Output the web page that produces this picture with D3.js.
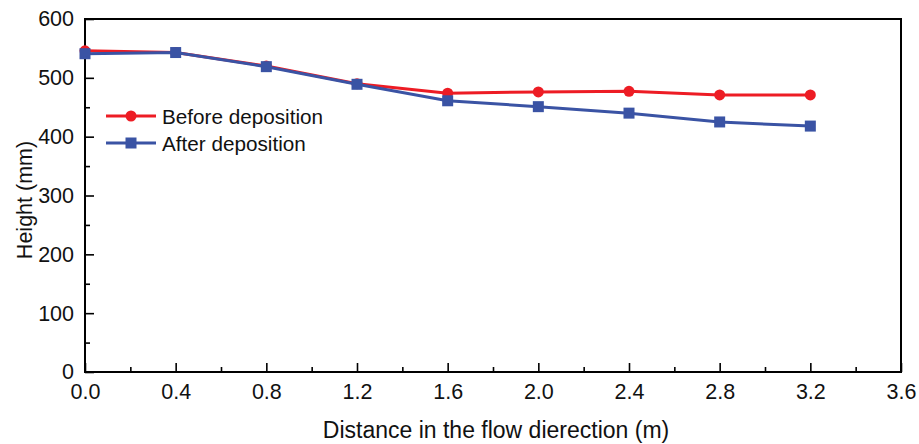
<!DOCTYPE html>
<html>
<head>
<meta charset="utf-8">
<script src="https://cdn.jsdelivr.net/npm/d3@7/dist/d3.min.js"></script>
<style>
  body { margin: 0; background: #fff; }
  svg text { font-family: "Liberation Sans", Arial, sans-serif; fill: #111; }
</style>
</head>
<body>
<div id="chart"></div>
<script>
// data
const distance = [0.0, 0.4, 0.8, 1.2, 1.6, 2.0, 2.4, 2.8, 3.2];
const beforeHeight = [546, 543, 520, 490, 474, 476, 477, 471, 471];
const afterHeight = [541, 543, 519, 489, 461, 451, 440, 425, 418];
const xTicks = [0, 0.4, 0.8, 1.2, 1.6, 2.0, 2.4, 2.8, 3.2, 3.6];
const yTicks = [0, 100, 200, 300, 400, 500, 600];

const width = 919, height = 444;
const margin = { top: 19, right: 18, bottom: 72, left: 85 };

const svg = d3.select('#chart').append('svg')
    .attr('width', width)
    .attr('height', height);

const x = d3.scaleLinear().domain([0, 3.6]).range([margin.left, width - margin.right]);
const y = d3.scaleLinear().domain([0, 600]).range([height - margin.bottom, margin.top]);

// frame
svg.append('rect')
    .attr('x', x(0)).attr('y', y(600))
    .attr('width', x(3.6) - x(0)).attr('height', y(0) - y(600))
    .attr('fill', 'none').attr('stroke', '#000').attr('stroke-width', 2);

// x axis, ticks pointing inward
const xAxis = svg.append('g').attr('transform', `translate(0,${y(0)})`)
    .call(d3.axisBottom(x).tickValues(xTicks).tickFormat(d3.format('.1f')).tickSize(-9).tickPadding(12));
xAxis.select('.domain').remove();
xAxis.selectAll('line').attr('stroke-width', 1.6);
xAxis.selectAll('text').style('font-size', '21.5px').attr('fill', '#111');
svg.append('g').attr('transform', `translate(0,${y(0)})`)
    .call(d3.axisBottom(x).tickValues(d3.range(0.2, 3.6, 0.4)).tickFormat('').tickSize(-5))
    .call(g => g.select('.domain').remove())
    .selectAll('line').attr('stroke-width', 1.6);

// y axis
const yAxis = svg.append('g').attr('transform', `translate(${x(0)},0)`)
    .call(d3.axisLeft(y).tickValues(yTicks).tickSize(-9).tickPadding(11));
yAxis.select('.domain').remove();
yAxis.selectAll('line').attr('stroke-width', 1.6);
yAxis.selectAll('text').style('font-size', '21.5px').attr('fill', '#111');
svg.append('g').attr('transform', `translate(${x(0)},0)`)
    .call(d3.axisLeft(y).tickValues(d3.range(50, 600, 100)).tickFormat('').tickSize(-5))
    .call(g => g.select('.domain').remove())
    .selectAll('line').attr('stroke-width', 1.6);

// axis titles
svg.append('text')
    .attr('x', 496).attr('y', 438)
    .attr('text-anchor', 'middle').style('font-size', '23px')
    .text('Distance in the flow dierection (m)');
svg.append('text')
    .attr('transform', `translate(32,200) rotate(-90)`)
    .attr('text-anchor', 'middle').style('font-size', '21.5px')
    .text('Height (mm)');

const series = [
    { name: 'Before deposition', values: beforeHeight, color: '#ed1c24', shape: 'circle' },
    { name: 'After deposition', values: afterHeight, color: '#3a53a4', shape: 'square' }
];

const line = d3.line().x(d => x(d[0])).y(d => y(d[1]));

const drawMarker = (g, shape, color, cx, cy) => {
    if (shape === 'circle') {
        g.append('circle').attr('cx', cx).attr('cy', cy).attr('r', 5.5).attr('fill', color);
    } else {
        g.append('rect').attr('x', cx - 5.5).attr('y', cy - 5.5)
            .attr('width', 11).attr('height', 11).attr('fill', color);
    }
};

series.forEach(s => {
    const pts = distance.map((d, i) => [d, s.values[i]]);
    const g = svg.append('g');
    g.append('path').datum(pts)
        .attr('d', line).attr('fill', 'none')
        .attr('stroke', s.color).attr('stroke-width', 3);
    pts.forEach(p => drawMarker(g, s.shape, s.color, x(p[0]), y(p[1])));
});

// legend
const legend = svg.append('g');
series.forEach((s, i) => {
    const ly = 116 + i * 27;
    legend.append('line').attr('x1', 106).attr('x2', 156).attr('y1', ly).attr('y2', ly)
        .attr('stroke', s.color).attr('stroke-width', 3);
    drawMarker(legend, s.shape, s.color, 131, ly);
    legend.append('text').attr('x', 162).attr('y', ly + 7.5)
        .style('font-size', '20.7px').text(s.name);
});
</script>
</body>
</html>
